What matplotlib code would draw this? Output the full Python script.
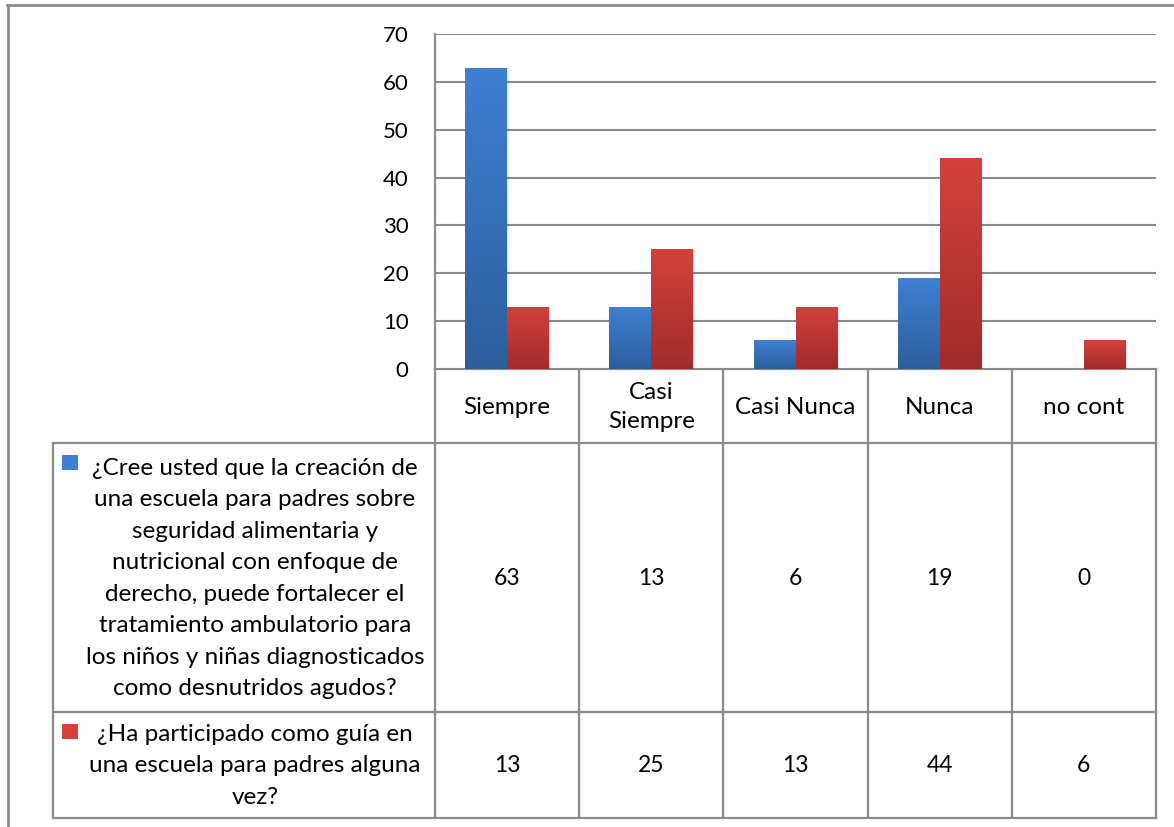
import numpy as np
import matplotlib
matplotlib.use("Agg")
import matplotlib.pyplot as plt
from matplotlib.colors import LinearSegmentedColormap
from matplotlib.patches import Rectangle

categories = ["Siempre", "Casi\nSiempre", "Casi Nunca", "Nunca", "no cont"]
series_names = [
    "¿Cree usted que la creación de\nuna escuela para padres sobre\nseguridad alimentaria y\n"
    "nutricional con enfoque de\nderecho, puede fortalecer el\ntratamiento ambulatorio para\n"
    "los niños y niñas diagnosticados\ncomo desnutridos agudos?",
    "¿Ha participado como guía en\nuna escuela para padres alguna\nvez?",
]
values_q1 = [63, 13, 6, 19, 0]
values_q2 = [13, 25, 13, 44, 6]
y_ticks = [0, 10, 20, 30, 40, 50, 60, 70]

FONT = "Lato"
FS_TICK = 16
FS_TEXT = 17.5
FS_NUM = 16.5
GRID = "#8a8a8a"

W, H = 1174, 827
fig = plt.figure(figsize=(W / 100, H / 100), dpi=100)
fig.patch.set_facecolor("white")

# plot area in pixel terms
px_left, px_right, px_top, px_zero = 435, 1156, 34, 369
ax = fig.add_axes([px_left / W, 1 - px_zero / H,
                   (px_right - px_left) / W, (px_zero - px_top) / H])

n = len(categories)
x = np.arange(n)
bw = 0.29
series = [values_q1, values_q2]
grads = [("#3f80d2", "#2c5e9d"), ("#d4413c", "#a02c29")]
offsets = [-bw / 2, bw / 2]

for vals, (ctop, cbot), off in zip(series, grads, offsets):
    cmap = LinearSegmentedColormap.from_list("g", [cbot, ctop])
    bars = ax.bar(x + off, vals, width=bw, facecolor="none", edgecolor="none", zorder=3)
    for b in bars:
        h = b.get_height()
        if h <= 0:
            continue
        x0 = b.get_x()
        # soft shadow to the right of each bar
        for k, a in enumerate([0.05, 0.03, 0.015]):
            ax.add_patch(Rectangle((x0 + 0.006 * (k + 1), 0), bw, h - 0.2,
                                   facecolor="black", alpha=a, edgecolor="none", zorder=2.5))
        grad = np.linspace(0, 1, 256).reshape(-1, 1)
        im = ax.imshow(grad, extent=[x0, x0 + bw, 0, h], origin="lower",
                       cmap=cmap, aspect="auto", zorder=3, interpolation="bilinear")
        im.set_clip_path(b)

ax.set_xlim(-0.5, n - 0.5)
ax.set_ylim(0, 70)
ax.set_yticks(y_ticks)
ax.set_xticks([])
ax.yaxis.grid(True, color=GRID, linewidth=1.5, zorder=0)
ax.set_axisbelow(True)
for s in ["top", "right", "bottom"]:
    ax.spines[s].set_visible(False)
ax.spines["left"].set_color(GRID)
ax.spines["left"].set_linewidth(1.6)
ax.tick_params(axis="y", length=0, pad=19, labelsize=FS_TICK)
for lab in ax.get_yticklabels():
    lab.set_fontfamily(FONT)

# overlay in pixel coordinates for the data table and frame
ov = fig.add_axes([0, 0, 1, 1], zorder=-1)
ov.set_xlim(0, W)
ov.set_ylim(H, 0)
ov.axis("off")

col_w = (px_right - px_left) / n
col_edges = [px_left + i * col_w for i in range(n + 1)]
row_edges = [px_zero, 443, 712, 818]
legend_left = 53

lw = 1.6
# horizontal lines
ov.plot([px_left, px_right], [row_edges[0]] * 2, color=GRID, lw=lw)
for yy in row_edges[1:]:
    ov.plot([legend_left, px_right], [yy] * 2, color=GRID, lw=lw)
# vertical lines
ov.plot([legend_left] * 2, [row_edges[1], row_edges[3]], color=GRID, lw=lw)
for xx in col_edges:
    ov.plot([xx] * 2, [row_edges[0], row_edges[3]], color=GRID, lw=lw)

# outer frame (left and top)
ov.plot([7.5, 7.5], [5, H], color="#8a8a8a", lw=2)
ov.plot([7, W], [5, 5], color="#8a8a8a", lw=2)

# header row
for i, c in enumerate(categories):
    cx = (col_edges[i] + col_edges[i + 1]) / 2
    ov.text(cx, (row_edges[0] + row_edges[1]) / 2 + 1, c, ha="center", va="center",
            fontsize=FS_TEXT, fontfamily=FONT, linespacing=1.45)

# value rows
legend_cols = [grads[0][0], grads[1][0]]
for r, (vals, name) in enumerate(zip(series, series_names)):
    y0, y1 = row_edges[r + 1], row_edges[r + 2]
    cy = (y0 + y1) / 2
    for i, v in enumerate(vals):
        cx = (col_edges[i] + col_edges[i + 1]) / 2
        ov.text(cx, cy + 1, str(v), ha="center", va="center", fontsize=FS_NUM, fontfamily=FONT)
    ov.text(255, cy + 1, name, ha="center", va="center", fontsize=FS_TEXT,
            fontfamily=FONT, linespacing=1.62)
    ov.add_patch(Rectangle((62, y0 + 12), 16, 15, facecolor=legend_cols[r], edgecolor="none"))

fig.savefig("out.png", dpi=100, facecolor="white")
